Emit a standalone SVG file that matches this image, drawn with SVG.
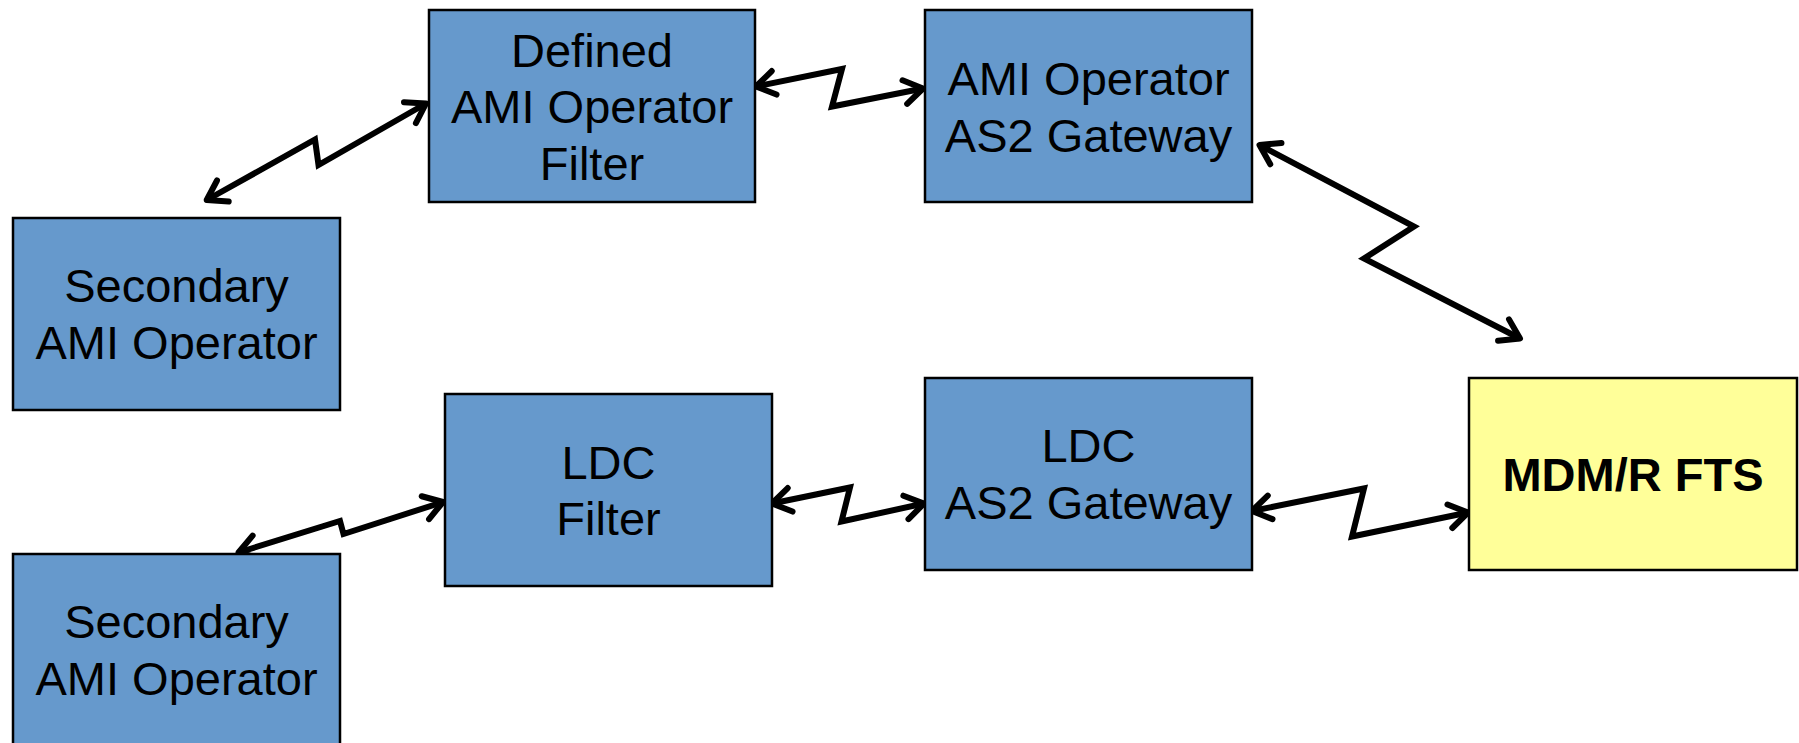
<svg xmlns="http://www.w3.org/2000/svg" width="1799" height="743" viewBox="0 0 1799 743">
  <style>
    .box { stroke: #000; stroke-width: 2.5; }
    .blue { fill: #6699CC; }
    .yellow { fill: #FFFF99; }
    .lbl { font-family: "Liberation Sans", Arial, sans-serif; font-size: 47px; fill: #000; text-anchor: middle; }
    .bold { font-weight: bold; }
    .link { fill: none; stroke: #000; stroke-width: 6; stroke-linejoin: miter; stroke-miterlimit: 10;
            marker-start: url(#arrow); marker-end: url(#arrow); }
  </style>
  <defs>
    <!-- open V arrowhead, used at both ends of every link -->
    <marker id="arrow" markerUnits="userSpaceOnUse" markerWidth="40" markerHeight="40"
            viewBox="-25 -20 30 40" refX="0" refY="0" orient="auto-start-reverse" overflow="visible">
      <path d="M-18.5,-12 L0,0 L-18.5,12" fill="none" stroke="#000" stroke-width="6"
            stroke-linecap="round" stroke-linejoin="round"/>
    </marker>
  </defs>

  <rect x="0" y="0" width="1799" height="743" fill="#fff"/>

  <g id="connectors">
    <polyline class="link" points="206.7,200 315,139.5 318.5,165 426,103.5"/>
    <polyline class="link" points="756,86.5 842,69 832,106.5 923,88.5"/>
    <polyline class="link" points="1259.5,145 1414,226.5 1364,258.5 1520,338.5"/>
    <polyline class="link" points="238.5,552.5 340,521 343.5,534 443,502"/>
    <polyline class="link" points="772,503.5 850,487.5 841.5,521.5 924,503.5"/>
    <polyline class="link" points="1252,511 1364,488.5 1352,536.5 1468,512.5"/>
  </g>

  <g id="defined-filter">
    <rect class="box blue" x="429" y="10" width="326" height="192"/>
    <text class="lbl" x="592" y="66.7">Defined</text>
    <text class="lbl" x="592" y="123.3">AMI Operator</text>
    <text class="lbl" x="592" y="180">Filter</text>
  </g>

  <g id="ami-gateway">
    <rect class="box blue" x="925" y="10" width="327" height="192"/>
    <text class="lbl" x="1088.5" y="95">AMI Operator</text>
    <text class="lbl" x="1088.5" y="152">AS2 Gateway</text>
  </g>

  <g id="secondary-top">
    <rect class="box blue" x="13" y="218" width="327" height="192"/>
    <text class="lbl" x="176.5" y="302">Secondary</text>
    <text class="lbl" x="176.5" y="359">AMI Operator</text>
  </g>

  <g id="ldc-filter">
    <rect class="box blue" x="445" y="394" width="327" height="192"/>
    <text class="lbl" x="608.5" y="478.5">LDC</text>
    <text class="lbl" x="608.5" y="535">Filter</text>
  </g>

  <g id="secondary-bottom">
    <rect class="box blue" x="13" y="554" width="327" height="192"/>
    <text class="lbl" x="176.5" y="638">Secondary</text>
    <text class="lbl" x="176.5" y="695">AMI Operator</text>
  </g>

  <g id="ldc-gateway">
    <rect class="box blue" x="925" y="378" width="327" height="192"/>
    <text class="lbl" x="1088.5" y="462">LDC</text>
    <text class="lbl" x="1088.5" y="519">AS2 Gateway</text>
  </g>

  <g id="mdmr-fts">
    <rect class="box yellow" x="1469" y="378" width="328" height="192"/>
    <text class="lbl bold" x="1633" y="490.5">MDM/R FTS</text>
  </g>
</svg>
